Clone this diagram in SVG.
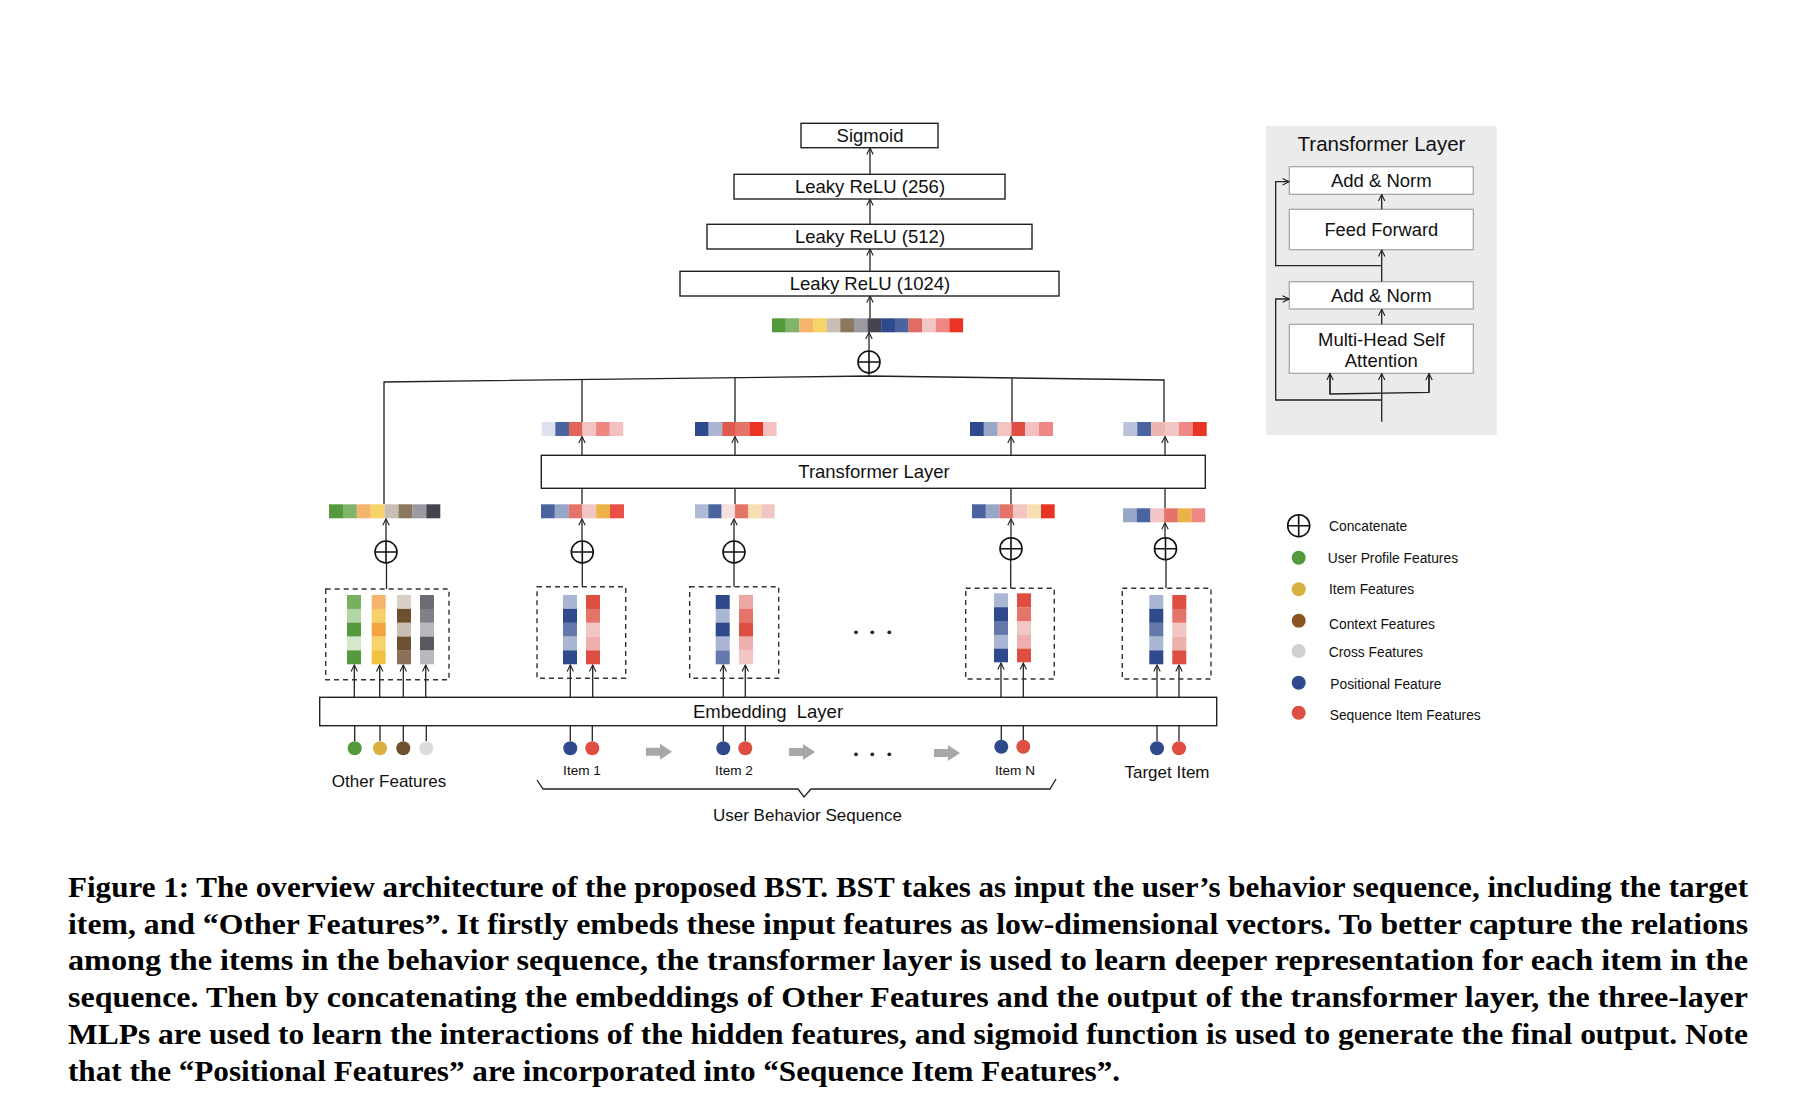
<svg xmlns="http://www.w3.org/2000/svg" xmlns:xlink="http://www.w3.org/1999/xlink" width="1798" height="1100" viewBox="0 0 1798 1100">
<style>
.box{fill:#fff;stroke:#222;stroke-width:1.4}
.pbox{fill:#fff;stroke:#a8a8a8;stroke-width:1.3}
.ln{fill:none;stroke:#222;stroke-width:1.3}
.arr{fill:none;stroke:#222;stroke-width:1.3;marker-end:url(#ah)}
.dash{fill:none;stroke:#333;stroke-width:1.4;stroke-dasharray:5 4}
.t{font-family:'Liberation Sans',Arial,sans-serif;fill:#111}
.c{text-anchor:middle}
.cap{font-family:'Liberation Serif','Times New Roman',serif;font-weight:bold;font-size:30px;fill:#000}
.ga{fill:#a8a8a8}
</style>
<defs>
<marker id="ah" viewBox="0 0 10 10" refX="9" refY="5" markerWidth="8" markerHeight="8" markerUnits="userSpaceOnUse" orient="auto">
<path d="M1,1 L9,5 L1,9" fill="none" stroke="#222" stroke-width="1.4"/>
</marker>
<g id="cc"><circle r="11" fill="#fff" stroke="#111" stroke-width="1.6"/><path d="M-11,0H11M0,-11V11" stroke="#111" stroke-width="1.6"/></g>
</defs>
<rect width="1798" height="1100" fill="#fff"/>

<!-- connectors -->
<g id="connectors">
<line class="arr" x1="870" y1="174.3" x2="870" y2="148"/>
<line class="arr" x1="870" y1="224.3" x2="870" y2="199"/>
<line class="arr" x1="870" y1="271.3" x2="870" y2="249"/>
<line class="arr" x1="870" y1="318.3" x2="870" y2="296"/>
<line class="arr" x1="869" y1="351" x2="869" y2="332.5"/>
<line class="ln" x1="869" y1="373" x2="869" y2="376"/>
<polyline class="ln" points="384,504.3 384,382 869,376 1164,380 1164,422"/>
<line class="ln" x1="582" y1="379.6" x2="582" y2="422"/>
<line class="ln" x1="735" y1="377.7" x2="735" y2="422"/>
<line class="ln" x1="1012" y1="377.9" x2="1012" y2="422"/>
<line class="arr" x1="582" y1="455" x2="582" y2="436.5"/>
<line class="arr" x1="735" y1="455" x2="735" y2="436.5"/>
<line class="arr" x1="1011" y1="455" x2="1011" y2="436.5"/>
<line class="arr" x1="1165" y1="455" x2="1165" y2="436.5"/>
<line class="ln" x1="582" y1="488" x2="582" y2="504.3"/>
<line class="ln" x1="735" y1="488" x2="735" y2="504.3"/>
<line class="ln" x1="1011" y1="488" x2="1011" y2="504.3"/>
<line class="ln" x1="1165" y1="488" x2="1165" y2="508.3"/>
<line class="arr" x1="386" y1="541" x2="386" y2="518.8"/>
<line class="arr" x1="582" y1="541" x2="582" y2="518.8"/>
<line class="arr" x1="734" y1="541" x2="734" y2="518.8"/>
<line class="arr" x1="1011" y1="538" x2="1011" y2="518.8"/>
<line class="arr" x1="1165" y1="538" x2="1165" y2="522.8"/>
<line class="ln" x1="386.5" y1="563" x2="386.5" y2="589"/>
<line class="ln" x1="582.3" y1="563" x2="582.3" y2="586.7"/>
<line class="ln" x1="734" y1="563" x2="734" y2="586.7"/>
<line class="ln" x1="1010.7" y1="559.7" x2="1010.7" y2="588.3"/>
<line class="ln" x1="1166" y1="559.7" x2="1166" y2="588.3"/>
<line class="arr" x1="354.3" y1="697" x2="354.3" y2="665"/>
<line class="arr" x1="379.7" y1="697" x2="379.7" y2="665"/>
<line class="arr" x1="403.3" y1="697" x2="403.3" y2="665"/>
<line class="arr" x1="425.7" y1="697" x2="425.7" y2="665"/>
<line class="arr" x1="570.3" y1="697" x2="570.3" y2="665"/>
<line class="arr" x1="592.7" y1="697" x2="592.7" y2="665"/>
<line class="arr" x1="723.3" y1="697" x2="723.3" y2="665"/>
<line class="arr" x1="745.3" y1="697" x2="745.3" y2="665"/>
<line class="arr" x1="1001" y1="697" x2="1001" y2="663"/>
<line class="arr" x1="1023.3" y1="697" x2="1023.3" y2="663"/>
<line class="arr" x1="1157" y1="697" x2="1157" y2="665"/>
<line class="arr" x1="1179" y1="697" x2="1179" y2="665"/>
<line class="ln" x1="354.7" y1="726" x2="354.7" y2="741"/>
<line class="ln" x1="380" y1="726" x2="380" y2="741"/>
<line class="ln" x1="403.3" y1="726" x2="403.3" y2="741"/>
<line class="ln" x1="426.3" y1="726" x2="426.3" y2="741"/>
<line class="ln" x1="570.3" y1="726" x2="570.3" y2="741"/>
<line class="ln" x1="592.3" y1="726" x2="592.3" y2="741"/>
<line class="ln" x1="723.3" y1="726" x2="723.3" y2="741"/>
<line class="ln" x1="745.3" y1="726" x2="745.3" y2="741"/>
<line class="ln" x1="1001.3" y1="726" x2="1001.3" y2="740"/>
<line class="ln" x1="1023.3" y1="726" x2="1023.3" y2="740"/>
<line class="ln" x1="1157" y1="726" x2="1157" y2="741"/>
<line class="ln" x1="1179" y1="726" x2="1179" y2="741"/>
<polyline class="ln" points="537,780 543,789 798,789 804,797 811,789 1050,789 1056,779"/>
<path class="ga" d="M646,747.7H660V743.7L672,751.7L660,759.7V755.7H646Z"/>
<path class="ga" d="M789,748H803V744L815,752L803,760V756H789Z"/>
<path class="ga" d="M934,749H948V745L960,753L948,761V757H934Z"/>
</g>

<!-- MLP stack -->
<g id="sigmoid"><rect class="box" x="801" y="123.3" width="137" height="24.4"/><text class="t c" x="870" y="142" font-size="18.5">Sigmoid</text></g>
<g id="relu256"><rect class="box" x="734" y="174.3" width="271" height="24.7"/><text class="t c" x="870" y="193.2" font-size="18.5">Leaky ReLU (256)</text></g>
<g id="relu512"><rect class="box" x="707" y="224.3" width="325" height="24.7"/><text class="t c" x="870" y="243.2" font-size="18.5">Leaky ReLU (512)</text></g>
<g id="relu1024"><rect class="box" x="680" y="271.3" width="379" height="24.7"/><text class="t c" x="870" y="290.2" font-size="18.5">Leaky ReLU (1024)</text></g>

<g id="mlp-input">
<rect x="772" y="318.3" width="13.8" height="14" fill="#529a3c"/>
<rect x="785.65" y="318.3" width="13.8" height="14" fill="#80b46c"/>
<rect x="799.3" y="318.3" width="13.8" height="14" fill="#f4b46e"/>
<rect x="812.95" y="318.3" width="13.8" height="14" fill="#f6d46a"/>
<rect x="826.6" y="318.3" width="13.8" height="14" fill="#c8beb4"/>
<rect x="840.25" y="318.3" width="13.8" height="14" fill="#8a7860"/>
<rect x="853.9" y="318.3" width="13.8" height="14" fill="#9a9aa0"/>
<rect x="867.55" y="318.3" width="13.8" height="14" fill="#44444e"/>
<rect x="881.2" y="318.3" width="13.8" height="14" fill="#2e4a8c"/>
<rect x="894.85" y="318.3" width="13.8" height="14" fill="#4a64a0"/>
<rect x="908.5" y="318.3" width="13.8" height="14" fill="#e06c64"/>
<rect x="922.15" y="318.3" width="13.8" height="14" fill="#f2c6c4"/>
<rect x="935.8" y="318.3" width="13.8" height="14" fill="#ef8884"/>
<rect x="949.45" y="318.3" width="13.65" height="14" fill="#e93323"/>
</g>
<g id="concat-top"><use xlink:href="#cc" x="869" y="362"/></g>

<!-- transformer outputs -->
<g id="out-item1">
<rect x="541.7" y="422" width="13.7" height="14" fill="#dde2ee"/>
<rect x="555.3" y="422" width="13.7" height="14" fill="#4a64a0"/>
<rect x="568.9" y="422" width="13.7" height="14" fill="#e0645a"/>
<rect x="582.5" y="422" width="13.7" height="14" fill="#f2c4c2"/>
<rect x="596.1" y="422" width="13.7" height="14" fill="#ee8682"/>
<rect x="609.7" y="422" width="13.6" height="14" fill="#f5c0c0"/>
</g>
<g id="out-item2">
<rect x="695" y="422" width="13.7" height="14" fill="#2e4a8c"/>
<rect x="708.6" y="422" width="13.7" height="14" fill="#aab6d4"/>
<rect x="722.2" y="422" width="13.7" height="14" fill="#df5b50"/>
<rect x="735.8" y="422" width="13.7" height="14" fill="#e4736a"/>
<rect x="749.4" y="422" width="13.7" height="14" fill="#e93323"/>
<rect x="763" y="422" width="13.6" height="14" fill="#f5c0c0"/>
</g>
<g id="out-itemN">
<rect x="970" y="422" width="13.9" height="14" fill="#2e4a8c"/>
<rect x="983.8" y="422" width="13.9" height="14" fill="#98a6c8"/>
<rect x="997.6" y="422" width="13.9" height="14" fill="#f2c4c2"/>
<rect x="1011.4" y="422" width="13.9" height="14" fill="#de4e43"/>
<rect x="1025.2" y="422" width="13.9" height="14" fill="#f5c0c0"/>
<rect x="1039" y="422" width="14" height="14" fill="#ef8884"/>
</g>
<g id="out-target">
<rect x="1123.3" y="422" width="14" height="14" fill="#b8c2da"/>
<rect x="1137.2" y="422" width="14" height="14" fill="#4a64a0"/>
<rect x="1151.1" y="422" width="14" height="14" fill="#eeb4b0"/>
<rect x="1165" y="422" width="14" height="14" fill="#f2c6c4"/>
<rect x="1178.9" y="422" width="14" height="14" fill="#ef8884"/>
<rect x="1192.8" y="422" width="13.9" height="14" fill="#e93323"/>
</g>

<g id="transformer-layer"><rect class="box" x="541.3" y="455.3" width="664" height="33"/><text class="t c" x="874" y="478.3" font-size="18.5">Transformer Layer</text></g>

<!-- transformer inputs / other features -->
<g id="in-other">
<rect x="329" y="504.3" width="14" height="14" fill="#529a3c"/>
<rect x="342.9" y="504.3" width="14" height="14" fill="#80b46c"/>
<rect x="356.8" y="504.3" width="14" height="14" fill="#f4b46e"/>
<rect x="370.7" y="504.3" width="14" height="14" fill="#f6d46a"/>
<rect x="384.6" y="504.3" width="14" height="14" fill="#c8beb4"/>
<rect x="398.5" y="504.3" width="14" height="14" fill="#8a7860"/>
<rect x="412.4" y="504.3" width="14" height="14" fill="#9a9aa0"/>
<rect x="426.3" y="504.3" width="14" height="14" fill="#44444e"/>
</g>
<g id="in-item1">
<rect x="541" y="504.3" width="13.9" height="14" fill="#4a64a0"/>
<rect x="554.8" y="504.3" width="13.9" height="14" fill="#98a6c8"/>
<rect x="568.6" y="504.3" width="13.9" height="14" fill="#e4736a"/>
<rect x="582.4" y="504.3" width="13.9" height="14" fill="#f2c6c4"/>
<rect x="596.2" y="504.3" width="13.9" height="14" fill="#ebb248"/>
<rect x="610" y="504.3" width="14" height="14" fill="#eb5048"/>
</g>
<g id="in-item2">
<rect x="695" y="504.3" width="13.4" height="14" fill="#aebad6"/>
<rect x="708.3" y="504.3" width="13.4" height="14" fill="#4a64a0"/>
<rect x="721.6" y="504.3" width="13.4" height="14" fill="#f9e0e0"/>
<rect x="734.9" y="504.3" width="13.4" height="14" fill="#e4736a"/>
<rect x="748.2" y="504.3" width="13.4" height="14" fill="#f6dfb0"/>
<rect x="761.5" y="504.3" width="13.2" height="14" fill="#f2c4c2"/>
</g>
<g id="in-itemN">
<rect x="972" y="504.3" width="13.9" height="14" fill="#4a64a0"/>
<rect x="985.8" y="504.3" width="13.9" height="14" fill="#98a6c8"/>
<rect x="999.6" y="504.3" width="13.9" height="14" fill="#e4736a"/>
<rect x="1013.4" y="504.3" width="13.9" height="14" fill="#f2c6c4"/>
<rect x="1027.2" y="504.3" width="13.9" height="14" fill="#f6dfb0"/>
<rect x="1041" y="504.3" width="13.7" height="14" fill="#e93323"/>
</g>
<g id="in-target">
<rect x="1123" y="508.3" width="13.8" height="14" fill="#98a6c8"/>
<rect x="1136.7" y="508.3" width="13.8" height="14" fill="#4a64a0"/>
<rect x="1150.4" y="508.3" width="13.8" height="14" fill="#f2c6c4"/>
<rect x="1164.1" y="508.3" width="13.8" height="14" fill="#e4736a"/>
<rect x="1177.8" y="508.3" width="13.8" height="14" fill="#ebb248"/>
<rect x="1191.5" y="508.3" width="13.7" height="14" fill="#ef8884"/>
</g>

<g id="concat-row">
<use xlink:href="#cc" x="386" y="552"/>
<use xlink:href="#cc" x="582.3" y="552"/>
<use xlink:href="#cc" x="734" y="552"/>
<use xlink:href="#cc" x="1011" y="548.7"/>
<use xlink:href="#cc" x="1165.5" y="548.7"/>
</g>

<!-- embedding groups -->
<g id="emb-other">
<rect class="dash" x="325.7" y="589" width="123.3" height="90.7"/>
<rect x="347" y="595" width="14" height="14" fill="#78b062"/><rect x="347" y="608.9" width="14" height="14" fill="#b4d6a4"/><rect x="347" y="622.7" width="14" height="14" fill="#529a3c"/><rect x="347" y="636.6" width="14" height="14" fill="#d4e8cc"/><rect x="347" y="650.4" width="14" height="13.9" fill="#529a3c"/>
<rect x="371.7" y="595" width="14" height="14" fill="#f4b46e"/><rect x="371.7" y="608.9" width="14" height="14" fill="#f6d06a"/><rect x="371.7" y="622.7" width="14" height="14" fill="#f2a440"/><rect x="371.7" y="636.6" width="14" height="14" fill="#f6d46a"/><rect x="371.7" y="650.4" width="14" height="13.9" fill="#f4c042"/>
<rect x="397" y="595" width="14" height="14" fill="#d8d0c8"/><rect x="397" y="608.9" width="14" height="14" fill="#6c5030"/><rect x="397" y="622.7" width="14" height="14" fill="#c8beb4"/><rect x="397" y="636.6" width="14" height="14" fill="#6c5030"/><rect x="397" y="650.4" width="14" height="13.9" fill="#8a7058"/>
<rect x="420" y="595" width="14" height="14" fill="#6c6c74"/><rect x="420" y="608.9" width="14" height="14" fill="#808088"/><rect x="420" y="622.7" width="14" height="14" fill="#b8b8be"/><rect x="420" y="636.6" width="14" height="14" fill="#585860"/><rect x="420" y="650.4" width="14" height="13.9" fill="#b8b8be"/>
</g>
<g id="emb-item1">
<rect class="dash" x="537" y="586.7" width="88.7" height="91.6"/>
<rect x="563" y="595" width="14" height="14" fill="#aab6d4"/><rect x="563" y="608.9" width="14" height="14" fill="#2e4a8c"/><rect x="563" y="622.7" width="14" height="14" fill="#6478ac"/><rect x="563" y="636.6" width="14" height="14" fill="#aab6d4"/><rect x="563" y="650.4" width="14" height="13.9" fill="#2e4a8c"/>
<rect x="586" y="595" width="14" height="14" fill="#de4e43"/><rect x="586" y="608.9" width="14" height="14" fill="#e4736a"/><rect x="586" y="622.7" width="14" height="14" fill="#f2c6c4"/><rect x="586" y="636.6" width="14" height="14" fill="#eeb0ac"/><rect x="586" y="650.4" width="14" height="13.9" fill="#de4e43"/>
</g>
<g id="emb-item2">
<rect class="dash" x="689.7" y="586.7" width="89" height="91.6"/>
<rect x="715.7" y="595" width="14" height="14" fill="#2e4a8c"/><rect x="715.7" y="608.9" width="14" height="14" fill="#aab6d4"/><rect x="715.7" y="622.7" width="14" height="14" fill="#2e4a8c"/><rect x="715.7" y="636.6" width="14" height="14" fill="#aab6d4"/><rect x="715.7" y="650.4" width="14" height="13.9" fill="#6478ac"/>
<rect x="739" y="595" width="14" height="14" fill="#eca8a4"/><rect x="739" y="608.9" width="14" height="14" fill="#e4736a"/><rect x="739" y="622.7" width="14" height="14" fill="#de4e43"/><rect x="739" y="636.6" width="14" height="14" fill="#eeb0ac"/><rect x="739" y="650.4" width="14" height="13.9" fill="#f2c6c4"/>
</g>
<g id="emb-itemN">
<rect class="dash" x="965.7" y="588.3" width="88.6" height="90.7"/>
<rect x="994" y="593.3" width="14" height="14" fill="#aab6d4"/><rect x="994" y="607.2" width="14" height="14" fill="#2e4a8c"/><rect x="994" y="621" width="14" height="14" fill="#6478ac"/><rect x="994" y="634.9" width="14" height="14" fill="#aab6d4"/><rect x="994" y="648.7" width="14" height="13.6" fill="#2e4a8c"/>
<rect x="1017" y="593.3" width="14" height="14" fill="#de4e43"/><rect x="1017" y="607.2" width="14" height="14" fill="#e4736a"/><rect x="1017" y="621" width="14" height="14" fill="#f2c6c4"/><rect x="1017" y="634.9" width="14" height="14" fill="#eeb0ac"/><rect x="1017" y="648.7" width="14" height="13.6" fill="#de4e43"/>
</g>
<g id="emb-target">
<rect class="dash" x="1122.3" y="588.3" width="88.7" height="90.7"/>
<rect x="1149.3" y="595" width="14" height="14" fill="#aab6d4"/><rect x="1149.3" y="608.9" width="14" height="14" fill="#2e4a8c"/><rect x="1149.3" y="622.7" width="14" height="14" fill="#6478ac"/><rect x="1149.3" y="636.6" width="14" height="14" fill="#aab6d4"/><rect x="1149.3" y="650.4" width="14" height="13.9" fill="#2e4a8c"/>
<rect x="1172.3" y="595" width="14" height="14" fill="#de4e43"/><rect x="1172.3" y="608.9" width="14" height="14" fill="#e4736a"/><rect x="1172.3" y="622.7" width="14" height="14" fill="#f2c6c4"/><rect x="1172.3" y="636.6" width="14" height="14" fill="#eeb0ac"/><rect x="1172.3" y="650.4" width="14" height="13.9" fill="#de4e43"/>
</g>
<g id="ellipsis-mid" fill="#222"><circle cx="856" cy="632.3" r="1.9"/><circle cx="872.3" cy="632.3" r="1.9"/><circle cx="889.3" cy="632.3" r="1.9"/></g>

<g id="embedding-layer"><rect class="box" x="319.7" y="697.3" width="897" height="28.4"/><text class="t c" x="768" y="718" font-size="18.5" xml:space="preserve">Embedding  Layer</text></g>

<!-- inputs -->
<g id="input-other">
<circle cx="354.7" cy="748.3" r="7" fill="#529a3c"/><circle cx="380" cy="748.3" r="7" fill="#d8b040"/><circle cx="403.3" cy="748.3" r="7" fill="#6c5030"/><circle cx="426.3" cy="748.3" r="7" fill="#dcdcdc"/>
<text class="t c" x="389" y="787" font-size="17">Other Features</text>
</g>
<g id="input-item1"><circle cx="570.3" cy="748.3" r="7" fill="#2e4a8c"/><circle cx="592.3" cy="748.3" r="7" fill="#de4e43"/><text class="t c" x="582" y="775" font-size="13.6">Item 1</text></g>
<g id="input-item2"><circle cx="723.3" cy="748.3" r="7" fill="#2e4a8c"/><circle cx="745.3" cy="748.3" r="7" fill="#de4e43"/><text class="t c" x="734" y="775" font-size="13.6">Item 2</text></g>
<g id="ellipsis-bottom" fill="#222"><circle cx="856" cy="754.3" r="1.9"/><circle cx="872.3" cy="754.3" r="1.9"/><circle cx="889.3" cy="754.3" r="1.9"/></g>
<g id="input-itemN"><circle cx="1001.3" cy="746.7" r="7" fill="#2e4a8c"/><circle cx="1023.3" cy="746.7" r="7" fill="#de4e43"/><text class="t c" x="1015" y="774.5" font-size="13.6">Item N</text></g>
<g id="input-target"><circle cx="1157" cy="748.3" r="7" fill="#2e4a8c"/><circle cx="1179" cy="748.3" r="7" fill="#de4e43"/><text class="t c" x="1167" y="778" font-size="17">Target Item</text></g>
<g id="ubs-label"><text class="t c" x="807.5" y="821" font-size="17">User Behavior Sequence</text></g>

<!-- transformer detail panel -->
<g id="transformer-detail">
<rect x="1266" y="126" width="230.7" height="309" fill="#ebebeb"/>
<text class="t c" x="1381.5" y="150.7" font-size="20.5">Transformer Layer</text>
<rect class="pbox" x="1289.3" y="166.7" width="184" height="27.6"/>
<text class="t c" x="1381.3" y="187" font-size="18.5">Add &amp; Norm</text>
<rect class="pbox" x="1289.3" y="209.3" width="184" height="40.4"/>
<text class="t c" x="1381.3" y="236" font-size="18.3">Feed Forward</text>
<rect class="pbox" x="1289.3" y="281.7" width="184" height="27.3"/>
<text class="t c" x="1381.3" y="302" font-size="18.5">Add &amp; Norm</text>
<rect class="pbox" x="1289.3" y="324.3" width="184" height="49"/>
<text class="t c" x="1381.3" y="345.8" font-size="18.5">Multi-Head Self</text>
<text class="t c" x="1381.3" y="366.5" font-size="18.5">Attention</text>
<line class="arr" x1="1381.7" y1="209.3" x2="1381.7" y2="194.5"/>
<line class="arr" x1="1381.7" y1="281.7" x2="1381.7" y2="250"/>
<line class="arr" x1="1381.7" y1="324.3" x2="1381.7" y2="309.3"/>
<polyline class="arr" points="1381.7,265.7 1275.7,265.7 1275.7,181.7 1289,181.7"/>
<polyline class="arr" points="1381.7,400 1275.7,400 1275.7,299 1289,299"/>
<line class="arr" x1="1381.7" y1="421.7" x2="1381.7" y2="373.6"/>
<polyline class="ln" points="1330,373.6 1330,394 1429,392.3 1429,373.6"/>
<line class="arr" x1="1330" y1="394" x2="1330" y2="373.6"/>
<line class="arr" x1="1429" y1="392.3" x2="1429" y2="373.6"/>
</g>

<!-- legend -->
<g id="legend">
<use xlink:href="#cc" x="1298.7" y="525.7"/>
<text class="t" x="1329" y="530.6" font-size="13.8">Concatenate</text>
<circle cx="1298.7" cy="557.7" r="7" fill="#529a3c"/>
<text class="t" x="1327.7" y="562.6" font-size="13.8">User Profile Features</text>
<circle cx="1298.7" cy="589.3" r="7" fill="#d8b040"/>
<text class="t" x="1329" y="594" font-size="13.8">Item Features</text>
<circle cx="1298.7" cy="620.7" r="7" fill="#8a5520"/>
<text class="t" x="1329" y="629" font-size="13.8">Context Features</text>
<circle cx="1298.7" cy="651" r="7" fill="#d0d0d0"/>
<text class="t" x="1328.7" y="657" font-size="13.8">Cross Features</text>
<circle cx="1298.7" cy="682.7" r="7" fill="#2e4a8c"/>
<text class="t" x="1330.3" y="689" font-size="13.8">Positional Feature</text>
<circle cx="1298.7" cy="712.7" r="7" fill="#de4e43"/>
<text class="t" x="1329.7" y="720" font-size="13.8">Sequence Item Features</text>
</g>

<!-- caption -->
<g id="caption">
<text class="cap" x="68" y="897" textLength="1680" lengthAdjust="spacingAndGlyphs">Figure 1: The overview architecture of the proposed BST. BST takes as input the user’s behavior sequence, including the target</text>
<text class="cap" x="68" y="933.7" textLength="1680" lengthAdjust="spacingAndGlyphs">item, and “Other Features”. It firstly embeds these input features as low-dimensional vectors. To better capture the relations</text>
<text class="cap" x="68" y="970.4" textLength="1680" lengthAdjust="spacingAndGlyphs">among the items in the behavior sequence, the transformer layer is used to learn deeper representation for each item in the</text>
<text class="cap" x="68" y="1007" textLength="1680" lengthAdjust="spacingAndGlyphs">sequence. Then by concatenating the embeddings of Other Features and the output of the transformer layer, the three-layer</text>
<text class="cap" x="68" y="1043.8" textLength="1680" lengthAdjust="spacingAndGlyphs">MLPs are used to learn the interactions of the hidden features, and sigmoid function is used to generate the final output. Note</text>
<text class="cap" x="68" y="1080.5" textLength="1052" lengthAdjust="spacingAndGlyphs">that the “Positional Features” are incorporated into “Sequence Item Features”.</text>
</g>
</svg>
